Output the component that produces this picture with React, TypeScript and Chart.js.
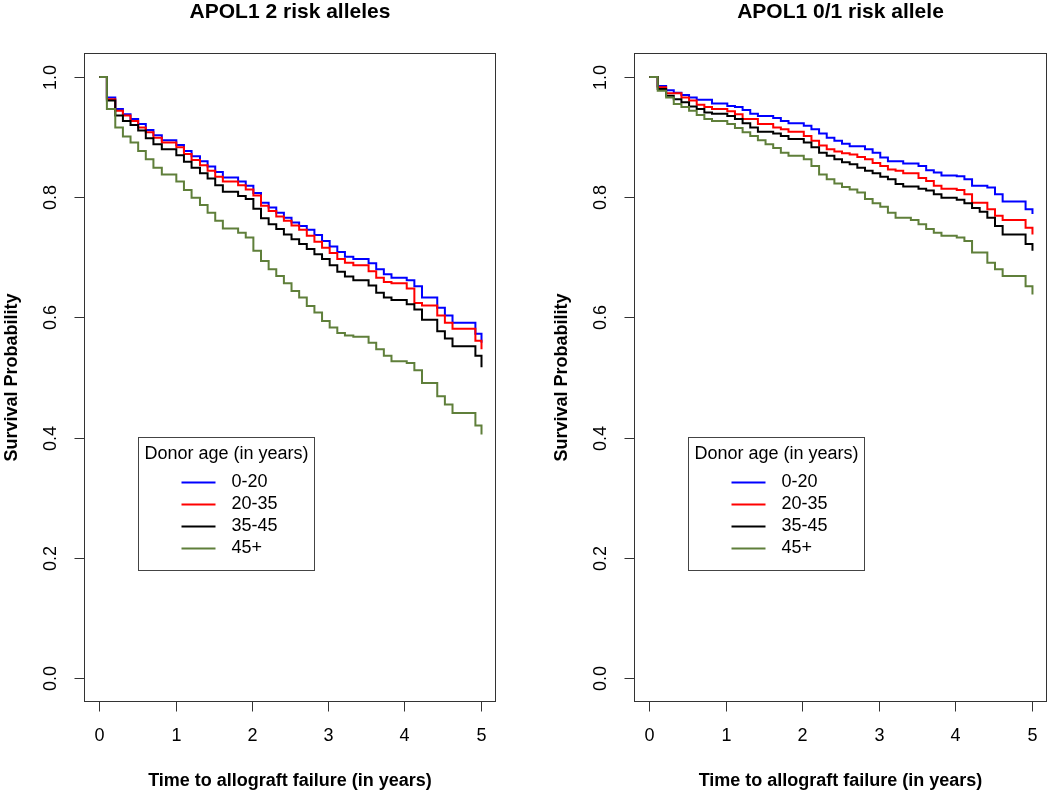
import React, { useEffect, useRef } from "react";
import { Chart, registerables } from "chart.js";

Chart.register(...registerables);

const FONT = '"Liberation Sans", Arial, Helvetica, sans-serif';

// ---- text ----
const PANEL_TITLES = ["APOL1 2 risk alleles", "APOL1 0/1 risk allele"];
const X_TITLE = "Time to allograft failure (in years)";
const Y_TITLE = "Survival Probability";
const LEGEND_TITLE = "Donor age (in years)";
const SERIES_NAMES = ["0-20", "20-35", "35-45", "45+"];
const SERIES_COLORS = ["#0000FF", "#FF0000", "#000000", "#5F7F3A"];

// ---- ticks ----
const X_TICKS = [0, 1, 2, 3, 4, 5];
const X_TICK_LABELS = ["0", "1", "2", "3", "4", "5"];
const Y_TICKS = [0, 0.2, 0.4, 0.6, 0.8, 1.0];
const Y_TICK_LABELS = ["0.0", "0.2", "0.4", "0.6", "0.8", "1.0"];

// ---- panel 1: APOL1 2 risk alleles ----
const TIME_2RISK = [0, 0.1, 0.21, 0.31, 0.41, 0.51, 0.61, 0.71, 0.82, 1.01, 1.11, 1.21, 1.32, 1.42, 1.52, 1.62, 1.82, 1.92, 2.02, 2.12, 2.22, 2.32, 2.42, 2.52, 2.62, 2.72, 2.82, 2.92, 3.02, 3.12, 3.22, 3.33, 3.53, 3.63, 3.73, 3.83, 4.03, 4.13, 4.23, 4.43, 4.53, 4.63, 4.93, 5.01];
const S2_AGE_0_20 = [1.0, 0.966, 0.947, 0.938, 0.930, 0.922, 0.912, 0.903, 0.895, 0.887, 0.877, 0.868, 0.860, 0.851, 0.842, 0.833, 0.826, 0.819, 0.807, 0.791, 0.783, 0.774, 0.766, 0.758, 0.752, 0.746, 0.737, 0.727, 0.718, 0.709, 0.701, 0.697, 0.690, 0.680, 0.672, 0.666, 0.662, 0.652, 0.633, 0.616, 0.603, 0.591, 0.573, 0.558];
const S2_AGE_20_35 = [1.0, 0.963, 0.944, 0.936, 0.927, 0.916, 0.908, 0.899, 0.891, 0.883, 0.872, 0.862, 0.853, 0.844, 0.834, 0.826, 0.820, 0.813, 0.803, 0.786, 0.777, 0.768, 0.761, 0.753, 0.746, 0.736, 0.726, 0.716, 0.707, 0.697, 0.691, 0.687, 0.677, 0.666, 0.659, 0.657, 0.648, 0.624, 0.620, 0.603, 0.591, 0.581, 0.561, 0.547];
const S2_AGE_35_45 = [1.0, 0.961, 0.936, 0.927, 0.920, 0.911, 0.898, 0.888, 0.880, 0.870, 0.859, 0.849, 0.840, 0.831, 0.820, 0.809, 0.802, 0.797, 0.781, 0.765, 0.755, 0.747, 0.738, 0.730, 0.722, 0.714, 0.705, 0.697, 0.687, 0.676, 0.668, 0.662, 0.653, 0.641, 0.633, 0.629, 0.622, 0.613, 0.596, 0.577, 0.565, 0.552, 0.536, 0.517];
const S2_AGE_45P = [1.0, 0.947, 0.916, 0.901, 0.891, 0.877, 0.863, 0.849, 0.838, 0.826, 0.812, 0.799, 0.787, 0.774, 0.761, 0.748, 0.741, 0.733, 0.711, 0.694, 0.680, 0.669, 0.657, 0.644, 0.633, 0.619, 0.608, 0.594, 0.583, 0.574, 0.570, 0.568, 0.558, 0.547, 0.536, 0.527, 0.524, 0.512, 0.491, 0.469, 0.455, 0.441, 0.420, 0.405];

// ---- panel 2: APOL1 0/1 risk allele ----
const TIME_01RISK = [0, 0.11, 0.22, 0.32, 0.42, 0.52, 0.62, 0.72, 0.82, 0.92, 1.02, 1.12, 1.22, 1.32, 1.42, 1.52, 1.62, 1.72, 1.82, 1.92, 2.02, 2.12, 2.22, 2.32, 2.42, 2.52, 2.62, 2.72, 2.82, 2.92, 3.02, 3.12, 3.22, 3.32, 3.42, 3.52, 3.62, 3.72, 3.82, 3.92, 4.02, 4.12, 4.22, 4.32, 4.42, 4.52, 4.62, 4.72, 4.82, 4.92, 5.01];
const S01_AGE_0_20 = [1.0, 0.985, 0.978, 0.974, 0.970, 0.966, 0.962, 0.962, 0.956, 0.956, 0.952, 0.950, 0.945, 0.939, 0.935, 0.935, 0.932, 0.927, 0.923, 0.923, 0.919, 0.913, 0.906, 0.899, 0.894, 0.889, 0.885, 0.885, 0.880, 0.874, 0.866, 0.860, 0.860, 0.856, 0.856, 0.852, 0.845, 0.841, 0.836, 0.836, 0.835, 0.830, 0.819, 0.819, 0.816, 0.805, 0.793, 0.793, 0.793, 0.780, 0.772];
const S01_AGE_20_35 = [1.0, 0.983, 0.973, 0.973, 0.966, 0.961, 0.954, 0.950, 0.947, 0.947, 0.943, 0.938, 0.930, 0.930, 0.922, 0.922, 0.916, 0.913, 0.909, 0.909, 0.902, 0.894, 0.886, 0.880, 0.876, 0.873, 0.871, 0.867, 0.863, 0.857, 0.852, 0.846, 0.844, 0.840, 0.840, 0.832, 0.827, 0.819, 0.814, 0.814, 0.812, 0.805, 0.791, 0.791, 0.780, 0.769, 0.762, 0.762, 0.762, 0.749, 0.738];
const S01_AGE_35_45 = [1.0, 0.980, 0.969, 0.963, 0.958, 0.951, 0.947, 0.941, 0.939, 0.939, 0.935, 0.930, 0.923, 0.916, 0.909, 0.909, 0.906, 0.902, 0.897, 0.897, 0.891, 0.883, 0.874, 0.869, 0.863, 0.858, 0.855, 0.849, 0.844, 0.840, 0.834, 0.830, 0.822, 0.818, 0.818, 0.814, 0.811, 0.805, 0.799, 0.799, 0.796, 0.790, 0.782, 0.776, 0.766, 0.752, 0.738, 0.738, 0.738, 0.722, 0.711];
const S01_AGE_45P = [1.0, 0.977, 0.966, 0.955, 0.950, 0.944, 0.937, 0.930, 0.927, 0.927, 0.922, 0.915, 0.908, 0.902, 0.895, 0.888, 0.882, 0.874, 0.869, 0.869, 0.863, 0.852, 0.838, 0.830, 0.823, 0.817, 0.813, 0.808, 0.797, 0.790, 0.784, 0.774, 0.766, 0.766, 0.762, 0.755, 0.747, 0.741, 0.736, 0.736, 0.733, 0.727, 0.708, 0.708, 0.691, 0.680, 0.669, 0.669, 0.669, 0.652, 0.638];

const CANVAS_W = 525;
const CANVAS_H = 791;

const decorPlugin = {
  id: "decor",
  afterDraw(chart: any, _args: any, opts: any) {
    const { ctx, chartArea: a, scales } = chart;
    const xs = scales.x;
    const ys = scales.y;
    const L = Math.round(a.left) + 0.5;
    const R = Math.round(a.right) - 0.5;
    const T = Math.round(a.top) + 0.5;
    const B = Math.round(a.bottom) - 0.5;
    ctx.save();

    // box
    ctx.strokeStyle = "#333333";
    ctx.lineWidth = 1;
    ctx.strokeRect(L, T, R - L, B - T);

    // x ticks
    ctx.fillStyle = "#000";
    ctx.font = `18px ${FONT}`;
    ctx.textAlign = "center";
    ctx.textBaseline = "middle";
    X_TICKS.forEach((v, i) => {
      const px = Math.round(xs.getPixelForValue(v)) + 0.5;
      ctx.beginPath();
      ctx.moveTo(px, B);
      ctx.lineTo(px, B + 10);
      ctx.stroke();
      ctx.fillText(X_TICK_LABELS[i], px, B + 35);
    });

    // y ticks (rotated labels)
    Y_TICKS.forEach((v, i) => {
      const py = Math.round(ys.getPixelForValue(v)) + 0.5;
      ctx.beginPath();
      ctx.moveTo(L - 10, py);
      ctx.lineTo(L, py);
      ctx.stroke();
      ctx.save();
      ctx.translate(L - 33, py);
      ctx.rotate(-Math.PI / 2);
      ctx.fillText(Y_TICK_LABELS[i], 0, 0);
      ctx.restore();
    });

    // panel title
    const cx = (a.left + a.right) / 2;
    ctx.font = `bold 21px ${FONT}`;
    ctx.textBaseline = "alphabetic";
    ctx.fillText(opts.title, cx, 18);

    // x title
    ctx.font = `bold 18px ${FONT}`;
    ctx.fillText(X_TITLE, cx, 786);

    // y title
    ctx.save();
    ctx.translate(a.left - 67, (a.top + a.bottom) / 2);
    ctx.rotate(-Math.PI / 2);
    ctx.fillText(Y_TITLE, 0, 0);
    ctx.restore();

    // legend
    const lx = Math.round(a.left) + 54 + 0.5;
    const ly = Math.round(a.top) + 384 + 0.5;
    const lw = 176;
    const lh = 133;
    ctx.fillStyle = "#fff";
    ctx.fillRect(lx, ly, lw, lh);
    ctx.strokeStyle = "#444";
    ctx.lineWidth = 1;
    ctx.strokeRect(lx, ly, lw, lh);
    ctx.fillStyle = "#000";
    ctx.font = `18px ${FONT}`;
    ctx.textAlign = "center";
    ctx.textBaseline = "middle";
    ctx.fillText(LEGEND_TITLE, lx + lw / 2, ly + 17);
    ctx.textAlign = "left";
    SERIES_NAMES.forEach((name, i) => {
      const yy = ly + 45 + 22 * i;
      ctx.strokeStyle = SERIES_COLORS[i];
      ctx.lineWidth = 2;
      ctx.beginPath();
      ctx.moveTo(lx + 43, yy);
      ctx.lineTo(lx + 77, yy);
      ctx.stroke();
      ctx.fillStyle = "#000";
      ctx.fillText(name, lx + 93, yy);
    });

    ctx.restore();
  },
};

type PanelProps = {
  title: string;
  times: number[];
  series: number[][];
  left: number;
  pad: { left: number; right: number; top: number; bottom: number };
};

function Panel({ title, times, series, left, pad }: PanelProps) {
  const ref = useRef<HTMLCanvasElement>(null);
  useEffect(() => {
    if (!ref.current) return;
    const chart = new Chart(ref.current, {
      type: "line",
      data: {
        datasets: series.map((s, i) => ({
          label: SERIES_NAMES[i],
          data: times.map((t, j) => ({ x: t, y: s[j] })),
          borderColor: SERIES_COLORS[i],
          backgroundColor: SERIES_COLORS[i],
          borderWidth: 2,
          stepped: "before" as const,
          pointRadius: 0,
          fill: false,
          order: 4 - i,
          borderJoinStyle: "miter" as const,
        })),
      },
      options: {
        responsive: false,
        animation: false,
        devicePixelRatio: 1,
        events: [],
        layout: { padding: pad },
        scales: {
          x: { type: "linear", min: -0.2, max: 5.2, display: false },
          y: { type: "linear", min: -0.04, max: 1.04, display: false },
        },
        plugins: {
          legend: { display: false },
          tooltip: { enabled: false },
          decor: { title },
        } as any,
      },
      plugins: [decorPlugin],
    });
    return () => chart.destroy();
  }, []);
  return (
    <canvas
      ref={ref}
      width={CANVAS_W}
      height={CANVAS_H}
      style={{ position: "absolute", left, top: 0, width: CANVAS_W, height: CANVAS_H, display: "block" }}
    />
  );
}

export default function App() {
  return (
    <div style={{ position: "absolute", left: 0, top: 0, width: 1050, height: 791, background: "#fff" }}>
      <Panel
        title={PANEL_TITLES[0]}
        times={TIME_2RISK}
        series={[S2_AGE_0_20, S2_AGE_20_35, S2_AGE_35_45, S2_AGE_45P]}
        left={0}
        pad={{ left: 84, right: 29, top: 53, bottom: 89 }}
      />
      <Panel
        title={PANEL_TITLES[1]}
        times={TIME_01RISK}
        series={[S01_AGE_0_20, S01_AGE_20_35, S01_AGE_35_45, S01_AGE_45P]}
        left={525}
        pad={{ left: 109, right: 3, top: 53, bottom: 89 }}
      />
    </div>
  );
}
